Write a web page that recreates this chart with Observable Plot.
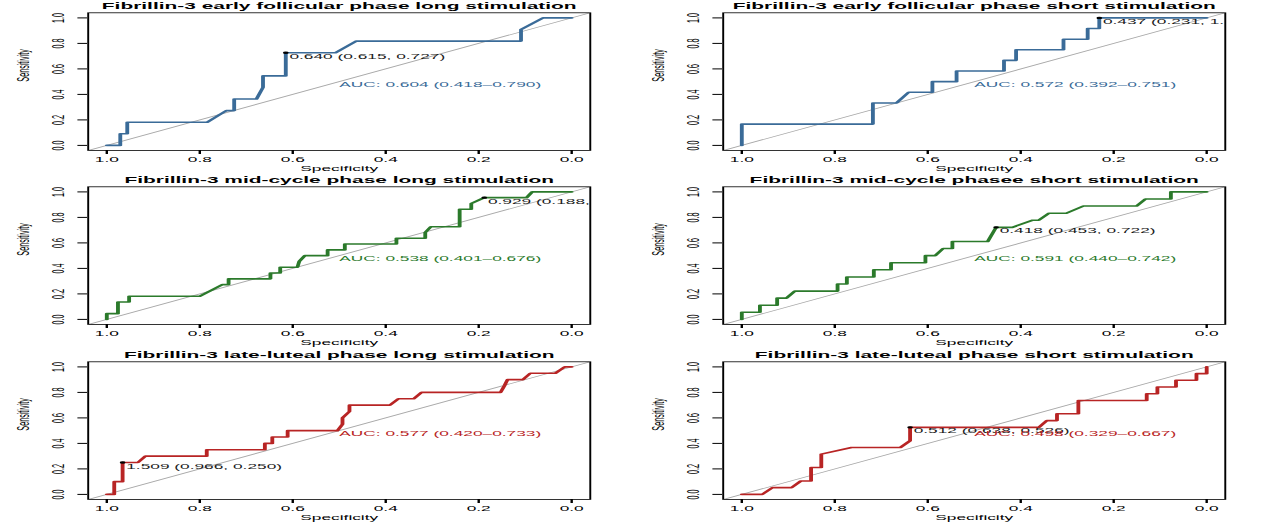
<!DOCTYPE html>
<html>
<head>
<meta charset="utf-8">
<script src="https://cdn.jsdelivr.net/npm/d3@7"></script>
<script src="https://cdn.jsdelivr.net/npm/@observablehq/plot@0.6"></script>
<style>
  html, body { margin: 0; padding: 0; background: #fff; }
  #chart { position: relative; width: 1269px; height: 523px; overflow: hidden; background: #fff; }
</style>
</head>
<body>
<div id="chart"></div>
<script>
// ---------- data ----------
const titles = [
  "Fibrillin-3 early follicular phase long stimulation",
  "Fibrillin-3 early follicular phase short stimulation",
  "Fibrillin-3 mid-cycle phase long stimulation",
  "Fibrillin-3 mid-cycle phasee short stimulation",
  "Fibrillin-3 late-luteal phase long stimulation",
  "Fibrillin-3 late-luteal phase short stimulation"
];

const earlyLongSpec  = [1.0, 0.971, 0.971, 0.956, 0.956, 0.784, 0.743, 0.726, 0.726, 0.678, 0.664, 0.664, 0.615, 0.615, 0.508, 0.463, 0.109, 0.109, 0.062, 0.0];
const earlyLongSens  = [0.0, 0.0, 0.091, 0.091, 0.182, 0.182, 0.273, 0.273, 0.364, 0.364, 0.455, 0.545, 0.545, 0.727, 0.727, 0.818, 0.818, 0.909, 1.0, 1.0];

const earlyShortSpec = [1.0, 1.0, 0.718, 0.718, 0.667, 0.641, 0.590, 0.590, 0.538, 0.538, 0.436, 0.436, 0.410, 0.410, 0.308, 0.308, 0.256, 0.256, 0.231, 0.231, 0.0];
const earlyShortSens = [0.0, 0.167, 0.167, 0.333, 0.333, 0.417, 0.417, 0.5, 0.5, 0.583, 0.583, 0.667, 0.667, 0.75, 0.75, 0.833, 0.833, 0.917, 0.917, 1.0, 1.0];

const midLongSpec    = [1.0, 1.0, 0.976, 0.976, 0.952, 0.952, 0.800, 0.751, 0.738, 0.738, 0.648, 0.648, 0.627, 0.627, 0.590, 0.586, 0.574, 0.525, 0.525, 0.488, 0.488, 0.377, 0.377, 0.315, 0.315, 0.303, 0.241, 0.241, 0.216, 0.216, 0.188, 0.097, 0.085, 0.0];
const midLongSens    = [0.0, 0.045, 0.045, 0.136, 0.136, 0.182, 0.182, 0.273, 0.273, 0.318, 0.318, 0.364, 0.364, 0.409, 0.409, 0.455, 0.5, 0.5, 0.545, 0.545, 0.591, 0.591, 0.636, 0.636, 0.682, 0.727, 0.727, 0.864, 0.864, 0.909, 0.955, 0.955, 1.0, 1.0];

const midShortSpec   = [1.0, 1.0, 0.961, 0.961, 0.924, 0.924, 0.904, 0.886, 0.794, 0.794, 0.774, 0.774, 0.716, 0.716, 0.679, 0.679, 0.605, 0.605, 0.584, 0.567, 0.547, 0.547, 0.471, 0.453, 0.418, 0.374, 0.361, 0.339, 0.302, 0.265, 0.151, 0.132, 0.077, 0.077, 0.0];
const midShortSens   = [0.0, 0.056, 0.056, 0.111, 0.111, 0.167, 0.167, 0.222, 0.222, 0.278, 0.278, 0.333, 0.333, 0.389, 0.389, 0.444, 0.444, 0.5, 0.5, 0.556, 0.556, 0.611, 0.611, 0.722, 0.722, 0.778, 0.778, 0.833, 0.833, 0.889, 0.889, 0.944, 0.944, 1.0, 1.0];

const lateLongSpec   = [1.0, 0.984, 0.984, 0.966, 0.966, 0.933, 0.917, 0.785, 0.785, 0.660, 0.660, 0.644, 0.644, 0.611, 0.611, 0.504, 0.493, 0.493, 0.478, 0.478, 0.391, 0.373, 0.340, 0.323, 0.153, 0.145, 0.138, 0.105, 0.089, 0.035, 0.015, 0.0];
const lateLongSens   = [0.0, 0.0, 0.10, 0.10, 0.25, 0.25, 0.30, 0.30, 0.35, 0.35, 0.40, 0.40, 0.45, 0.45, 0.50, 0.50, 0.55, 0.60, 0.65, 0.70, 0.70, 0.75, 0.75, 0.80, 0.80, 0.85, 0.90, 0.90, 0.95, 0.95, 1.0, 1.0];

const lateShortSpec  = [1.0, 0.956, 0.934, 0.893, 0.873, 0.851, 0.851, 0.829, 0.829, 0.764, 0.659, 0.638, 0.638, 0.361, 0.344, 0.322, 0.322, 0.276, 0.276, 0.129, 0.129, 0.106, 0.106, 0.066, 0.066, 0.022, 0.022, 0.0, 0.0];
const lateShortSens  = [0.0, 0.0, 0.053, 0.053, 0.105, 0.105, 0.211, 0.211, 0.316, 0.368, 0.368, 0.421, 0.526, 0.526, 0.579, 0.579, 0.632, 0.632, 0.737, 0.737, 0.789, 0.789, 0.842, 0.842, 0.895, 0.895, 0.947, 0.947, 1.0];

const curveSpecs = [earlyLongSpec, earlyShortSpec, midLongSpec, midShortSpec, lateLongSpec, lateShortSpec];
const curveSens  = [earlyLongSens, earlyShortSens, midLongSens, midShortSens, lateLongSens, lateShortSens];

const aucLabels = [
  "AUC: 0.604 (0.418\u20130.790)",
  "AUC: 0.572 (0.392\u20130.751)",
  "AUC: 0.538 (0.401\u20130.676)",
  "AUC: 0.591 (0.440\u20130.742)",
  "AUC: 0.577 (0.420\u20130.733)",
  "AUC: 0.498 (0.329\u20130.667)"
];
const aucSpec = [0.5, 0.5, 0.5, 0.5, 0.5, 0.5];
const aucSens = [0.5, 0.5, 0.5, 0.5, 0.5, 0.5];

const thresholdLabels = [
  "0.640 (0.615, 0.727)",
  "0.437 (0.231, 1.000)",
  "0.929 (0.188, 0.955)",
  "0.418 (0.453, 0.722)",
  "1.509 (0.966, 0.250)",
  "0.512 (0.638, 0.526)"
];
const thresholdSpec = [0.615, 0.231, 0.188, 0.453, 0.966, 0.638];
const thresholdSens = [0.727, 1.000, 0.955, 0.722, 0.250, 0.526];

const curveColors = ["#3a6b98", "#3a6b98", "#2b7a2b", "#2b7a2b", "#b82424", "#b82424"];

const axisTicks = [0, 0.2, 0.4, 0.6, 0.8, 1.0];
const xDomain = [1.04, -0.04];
const yDomain = [-0.04, 1.04];

// ---------- layout ----------
const PANEL_W = 634.5, PANEL_H = 174.33;   // displayed size of one panel
const W = 264, H = 174.33;                  // drawing size before horizontal stretch
const FONT = "'Liberation Sans', Arial, Helvetica, sans-serif";

const chart = document.getElementById("chart");

titles.forEach((title, i) => {
  const pts = curveSpecs[i].map((s, j) => ({spec: s, sens: curveSens[i][j]}));
  const diag = [xDomain[0], xDomain[1]].map(s => ({spec: s, sens: 1 - s}));
  const thr = [{spec: thresholdSpec[i], sens: thresholdSens[i], label: thresholdLabels[i]}];
  const auc = [{spec: aucSpec[i], sens: aucSens[i], label: aucLabels[i]}];
  const color = curveColors[i];

  const svg = Plot.plot({
    width: W,
    height: H,
    marginLeft: 36.2,
    marginRight: 18.9,
    marginTop: 12.3,
    marginBottom: 24.33,
    style: {fontFamily: FONT, fontSize: "7.2px", background: "white", color: "black"},
    x: {domain: xDomain},
    y: {domain: yDomain},
    marks: [
      Plot.line(diag, {x: "spec", y: "sens", stroke: "#a9a9a9", strokeWidth: 0.8, clip: true}),
      Plot.line(pts, {x: "spec", y: "sens", stroke: color, strokeWidth: 1.6}),
      Plot.dot(thr, {x: "spec", y: "sens", r: 1.2, fill: "black"}),
      Plot.text(thr, {x: "spec", y: "sens", text: "label", textAnchor: "start", lineAnchor: "top", dx: 1.5, dy: 1, fill: "#1a1a1a", clip: true}),
      Plot.text(auc, {x: "spec", y: "sens", text: "label", textAnchor: "start", lineAnchor: "top", fill: color}),
      Plot.frame({stroke: "black", strokeWidth: 0.8}),
      Plot.axisX({ticks: axisTicks, tickFormat: d3.format(".1f"), tickSize: 4, tickPadding: 2.5, label: null}),
      Plot.axisY({ticks: axisTicks, tickFormat: d3.format(".1f"), tickSize: 4, tickPadding: 6, tickRotate: -90, label: null}),
      Plot.text([title], {text: d => d, frameAnchor: "top", dy: -6.2, lineAnchor: "middle", fontWeight: "bold", fontSize: 8.7}),
      Plot.text(["Specificity"], {text: d => d, frameAnchor: "bottom", dy: 17.7, lineAnchor: "middle"}),
      Plot.text(["Sensitivity"], {text: d => d, frameAnchor: "left", dx: -27, rotate: -90, lineAnchor: "middle"})
    ]
  });

  const col = i % 2, row = Math.floor(i / 2);
  svg.setAttribute("width", PANEL_W);
  svg.setAttribute("height", PANEL_H);
  svg.setAttribute("preserveAspectRatio", "none");
  svg.style.position = "absolute";
  svg.style.left = (col * PANEL_W) + "px";
  svg.style.top = (row * PANEL_H) + "px";
  svg.style.width = PANEL_W + "px";
  svg.style.height = PANEL_H + "px";
  svg.style.maxWidth = "none";
  chart.appendChild(svg);
});
</script>
</body>
</html>
